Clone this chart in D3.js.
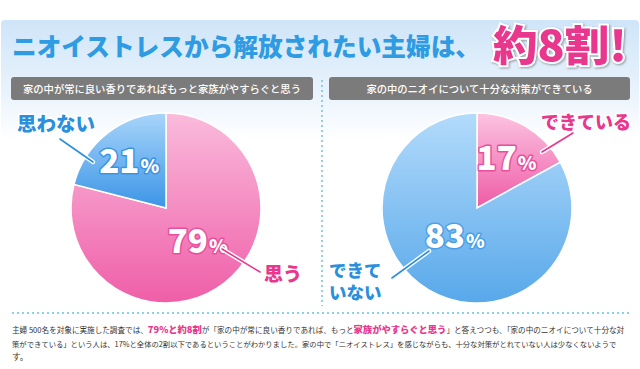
<!DOCTYPE html>
<html>
<head>
<meta charset="utf-8">
<script src="https://cdn.jsdelivr.net/npm/d3@7"></script>
<style>
  body { margin: 0; background: #fff; }
  svg { display: block; }
  text { font-family: "Noto Sans CJK JP", "Noto Sans", sans-serif; }
</style>
</head>
<body>
<svg width="640" height="369"></svg>
<script>
// ---- data ----
const titleMain = "ニオイストレスから解放されたい主婦は、";
const titleStrong = "約8割!";

const questions = [
    "家の中が常に良い香りであればもっと家族がやすらぐと思う",
    "家の中のニオイについて十分な対策ができている"
];

const leftLabels = ["思う", "思わない"];
const leftValues = [79, 21];

const rightLabels = ["できている", "できていない"];
const rightValues = [17, 83];

const noteLines = [
    [["主婦 500名を対象に実施した調査では、", 0], ["79%と約8割", 1], ["が「家の中が常に良い香りであれば、もっと", 0], ["家族がやすらぐと思う", 1], ["」と答えつつも、「家の中のニオイについて十分な対", 0]],
    [["策ができている」という人は、17%と全体の2割以下であるということがわかりました。家の中で「ニオイストレス」を感じながらも、十分な対策がとれていない人は少なくないようで", 0]],
    [["す。", 0]]
];

const pink = "#e8378c";
const blue = "#2a8fdc";

const svg = d3.select("svg");
const defs = svg.append("defs");

function vGrad(id, top, bottom) {
    const g = defs.append("linearGradient").attr("id", id)
        .attr("x1", 0).attr("y1", 0).attr("x2", 0).attr("y2", 1);
    g.append("stop").attr("offset", "0%").attr("stop-color", top);
    g.append("stop").attr("offset", "100%").attr("stop-color", bottom);
}
vGrad("gPinkL", "#fabbdc", "#ef5ea8");
vGrad("gBlueL", "#a8d5fa", "#3b95e6");
vGrad("gPinkR", "#fcc4e2", "#ee5ba5");
vGrad("gBlueR", "#b3dbfb", "#58a8ea");

const bg = defs.append("linearGradient").attr("id", "gBanner")
    .attr("x1", 0).attr("y1", 0).attr("x2", 0).attr("y2", 1);
bg.append("stop").attr("offset", "0%").attr("stop-color", "#cfe5f8");
bg.append("stop").attr("offset", "24%").attr("stop-color", "#e9f3fc");
bg.append("stop").attr("offset", "40%").attr("stop-color", "#ffffff");
bg.append("stop").attr("offset", "100%").attr("stop-color", "#ffffff");

// banner background
svg.append("rect")
    .attr("x", 1).attr("y", 20).attr("width", 638).attr("height", 300)
    .attr("rx", 4)
    .attr("fill", "url(#gBanner)");

// title
svg.append("text")
    .attr("x", 12).attr("y", 56)
    .attr("font-size", 25).attr("font-weight", 900)
    .attr("fill", "#2f9be2")
    .attr("textLength", 468).attr("lengthAdjust", "spacingAndGlyphs")
    .text(titleMain);

svg.append("text")
    .attr("x", 493).attr("y", 61)
    .attr("font-size", 42).attr("font-weight", 900)
    .attr("fill", pink)
    .attr("stroke", "#fff").attr("stroke-width", 4)
    .attr("paint-order", "stroke")
    .attr("textLength", 134).attr("lengthAdjust", "spacingAndGlyphs")
    .style("filter", "drop-shadow(1px 1px 1px rgba(0,0,0,0.35))")
    .text(titleStrong);

// question headers
const headers = [{ x: 11, w: 302 }, { x: 329, w: 301 }];
headers.forEach((h, i) => {
    svg.append("rect")
        .attr("x", h.x).attr("y", 77).attr("width", h.w).attr("height", 23)
        .attr("rx", 3).attr("fill", "#7b7b7b");
    svg.append("text")
        .attr("x", h.x + h.w / 2).attr("y", 92.5)
        .attr("text-anchor", "middle")
        .attr("font-size", 10.3).attr("font-weight", 500)
        .attr("fill", "#fff")
        .text(questions[i]);
});

// dotted separators
svg.append("line")
    .attr("x1", 322).attr("x2", 322).attr("y1", 80).attr("y2", 306)
    .attr("stroke", "#8fcfe8").attr("stroke-width", 2)
    .attr("stroke-dasharray", "2,3");
svg.append("line")
    .attr("x1", 12).attr("x2", 631).attr("y1", 313).attr("y2", 313)
    .attr("stroke", "#8fcfe8").attr("stroke-width", 2)
    .attr("stroke-dasharray", "2,3");

// pies
const radius = 95;
const pie = d3.pie().sort(null).startAngle(0).endAngle(2 * Math.PI);
const arc = d3.arc().innerRadius(0).outerRadius(radius);

function drawPie(cx, cy, values, fills) {
    const g = svg.append("g").attr("transform", `translate(${cx},${cy})`);
    const arcs = pie(values);
    g.selectAll("path")
        .data(arcs)
        .join("path")
        .attr("d", arc)
        .attr("fill", (d, i) => fills[i])
        .attr("stroke", "#fff")
        .attr("stroke-width", 1.5);
    return { g, arcs };
}

function pctLabel(g, d, r, dx, color, value) {
    const a = (d.startAngle + d.endAngle) / 2;
    const x = Math.sin(a) * r + dx;
    const y = -Math.cos(a) * r;
    const t = g.append("text")
        .attr("x", x).attr("y", y + 12)
        .attr("text-anchor", "middle")
        .attr("font-family", "Lato, 'Open Sans', sans-serif")
        .attr("font-weight", 900)
        .attr("fill", "#fff")
        .attr("stroke", color).attr("stroke-width", 3)
        .attr("stroke-linejoin", "round")
        .attr("paint-order", "stroke");
    t.append("tspan").attr("font-size", 33).text(value);
    t.append("tspan").attr("font-size", 19).attr("dx", 1).text("%");
}

function leader(x1, y1, x2, y2, color) {
    svg.append("line")
        .attr("x1", x1).attr("y1", y1).attr("x2", x2).attr("y2", y2)
        .attr("stroke", "#fff").attr("stroke-width", 4.5)
        .attr("stroke-linecap", "round");
    svg.append("line")
        .attr("x1", x1).attr("y1", y1).attr("x2", x2).attr("y2", y2)
        .attr("stroke", color).attr("stroke-width", 1.6)
        .attr("stroke-linecap", "round");
}

function catLabel(x, y, lines, color, size, gap) {
    lines.forEach((s, i) => {
        svg.append("text")
            .attr("x", x).attr("y", y + i * (gap || 0))
            .attr("font-size", size).attr("font-weight", 900)
            .attr("fill", color)
            .attr("stroke", "#fff").attr("stroke-width", 3)
            .attr("paint-order", "stroke")
            .text(s);
    });
}

// left pie
const left = drawPie(166, 208, leftValues, ["url(#gPinkL)", "url(#gBlueL)"]);
pctLabel(left.g, left.arcs[0], 42, 6, "#ea4f9c", leftValues[0]);
pctLabel(left.g, left.arcs[1], 60, 0, "#3b94e2", leftValues[1]);
leader(222, 249, 260, 272, pink);
leader(60, 139, 93, 162, blue);
catLabel(264, 281, [leftLabels[0]], pink, 19);
catLabel(17, 131, [leftLabels[1]], blue, 19.5);

// right pie
const right = drawPie(477, 208, rightValues, ["url(#gPinkR)", "url(#gBlueR)"]);
pctLabel(right.g, right.arcs[0], 58, 0, "#ea4f9c", rightValues[0]);
pctLabel(right.g, right.arcs[1], 32, -6, "#4aa0e6", rightValues[1]);
leader(573, 133, 542, 152, pink);
leader(429, 251, 392, 278, blue);
catLabel(541, 129, [rightLabels[0]], pink, 18);
catLabel(329, 277, [rightLabels[1].slice(0, 3), rightLabels[1].slice(3)], blue, 17.5, 22);

// note text: scale font so each full line fits its width
const noteWidths = [613, 605, null];
const baseSize = 8.6, boldSize = 10.5;
noteLines.forEach((parts, li) => {
    const t = svg.append("text")
        .attr("x", 12).attr("y", 333 + li * 13.5)
        .attr("fill", "#333");
    const spans = parts.map(p => {
        const s = t.append("tspan").text(p[0]).attr("font-size", p[1] ? boldSize : baseSize);
        if (p[1]) s.attr("fill", pink).attr("font-weight", 900);
        return s;
    });
    if (noteWidths[li]) {
        const k = noteWidths[li] / t.node().getComputedTextLength();
        spans.forEach((s, i) => s.attr("font-size", (parts[i][1] ? boldSize : baseSize) * k));
    }
});
</script>
</body>
</html>
